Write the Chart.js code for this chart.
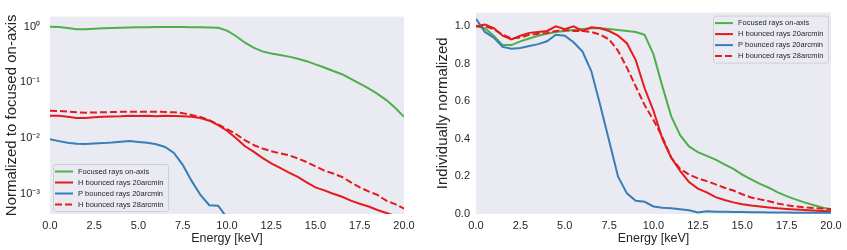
<!DOCTYPE html>
<html>
<head>
<meta charset="utf-8">
<script src="https://cdn.jsdelivr.net/npm/chart.js@4"></script>
<style>
body{margin:0;background:#fff;}
#left{position:absolute;left:0;top:0;width:420px;height:250px;}
#right{position:absolute;left:420px;top:0;width:427px;height:250px;}
</style>
</head>
<body>
<div id="left"><canvas id="leftChart"></canvas></div>
<div id="right"><canvas id="rightChart"></canvas></div>
<script>
var energy = [0,0.5,1,1.5,2,2.5,3,3.5,4,4.5,5,5.5,6,6.5,7,7.5,8,8.5,9,9.5,10,10.5,11,11.5,12,12.5,13,13.5,14,14.5,15,15.5,16,16.5,17,17.5,18,18.5,19,19.5,20]
var xTicks = [0,2.5,5,7.5,10,12.5,15,17.5,20]
var seriesNames = [`Focused rays on-axis`, `H bounced rays 20arcmin`, `P bounced rays 20arcmin`, `H bounced rays 28arcmin`]
var colors = [`#4daf4a`, `#e41a1c`, `#377eb8`, `#e41a1c`]

// left panel, normalized to focused on-axis (log)
var leftGreen = [1.00,0.99,0.95,0.90,0.90,0.92,0.935,0.95,0.96,0.97,0.975,0.98,0.985,0.99,0.99,0.985,0.98,0.975,0.97,0.955,0.85,0.68,0.52,0.42,0.36,0.33,0.31,0.29,0.265,0.24,0.21,0.185,0.16,0.14,0.115,0.095,0.078,0.062,0.048,0.035,0.024]
var leftRed = [0.025,0.0252,0.024,0.023,0.0228,0.0235,0.024,0.0243,0.0245,0.025,0.0248,0.025,0.0245,0.025,0.0248,0.0245,0.024,0.0228,0.0205,0.017,0.0135,0.01,0.0072,0.0057,0.0044,0.0035,0.0029,0.0024,0.002,0.0016,0.0013,0.00115,0.001,0.00088,0.00075,0.00066,0.00059,0.00051,0.00045,0.0004,0.00037]
var leftBlue = [0.0095,0.0088,0.0082,0.0079,0.0078,0.008,0.0081,0.0083,0.0086,0.0088,0.0085,0.0082,0.0077,0.0069,0.0054,0.0033,0.0017,0.00095,0.00062,0.00061,0.00037,0.0003,0.00028,0.00024,0.0002,0.0001,0.00014,0.00012,0.00012,0.00011,0.0001,0.00009,0.00009,0.00008,0.00008,0.00008,0.00007,0.00007,0.00007,0.00006,0.00006]
var leftDashed = [0.031,0.0305,0.030,0.029,0.0285,0.0288,0.029,0.0292,0.0295,0.0297,0.0298,0.0298,0.0296,0.0294,0.029,0.028,0.026,0.0238,0.021,0.0175,0.0145,0.0118,0.0092,0.0075,0.0065,0.0058,0.0053,0.0049,0.0043,0.0037,0.0031,0.0026,0.0023,0.002,0.0016,0.0013,0.0011,0.00095,0.00075,0.00065,0.00054]

// right panel, individually normalized
var rightGreen = [1.00,0.99,0.95,0.90,0.90,0.92,0.935,0.95,0.96,0.97,0.975,0.98,0.985,0.99,0.99,0.985,0.98,0.975,0.97,0.955,0.85,0.68,0.52,0.42,0.36,0.33,0.31,0.29,0.265,0.24,0.21,0.185,0.16,0.14,0.115,0.095,0.078,0.062,0.048,0.035,0.024]
var rightRed = [1.00,1.01,0.99,0.95,0.93,0.95,0.965,0.97,0.975,1.00,0.985,1.00,0.975,0.995,0.99,0.975,0.95,0.91,0.82,0.67,0.55,0.40,0.30,0.23,0.17,0.135,0.115,0.09,0.075,0.062,0.052,0.045,0.04,0.035,0.03,0.027,0.024,0.021,0.018,0.016,0.015]
var rightBlue = [1.04,0.97,0.94,0.89,0.88,0.885,0.895,0.905,0.92,0.955,0.95,0.915,0.865,0.76,0.58,0.39,0.20,0.11,0.07,0.065,0.04,0.033,0.03,0.025,0.02,0.008,0.014,0.012,0.012,0.011,0.01,0.009,0.009,0.008,0.008,0.008,0.007,0.007,0.007,0.006,0.006]
var rightDashed = [1.00,1.00,0.985,0.955,0.935,0.94,0.955,0.96,0.965,0.975,0.98,0.975,0.975,0.97,0.955,0.93,0.87,0.78,0.68,0.58,0.50,0.41,0.30,0.24,0.21,0.19,0.175,0.158,0.14,0.125,0.105,0.088,0.078,0.068,0.056,0.047,0.04,0.036,0.032,0.029,0.027]

var fontFamily = `'Liberation Sans', Arial, sans-serif`
var textColor = `#262626`
var superDigits = {'0':'⁰','1':'¹','2':'²','3':'³','4':'⁴','5':'⁵','6':'⁶','7':'⁷','8':'⁸','9':'⁹','-':'⁻'}

function toPoints(values){
    var points = []
    for(var pos = 0; pos < energy.length; pos++){
        points.push({x: energy[pos], y: values[pos]})
    }
    return points
}

function makeDatasets(green, red, blue, dashed){
    var lists = [green, red, blue, dashed]
    var datasets = []
    for(var pos = 0; pos < lists.length; pos++){
        datasets.push({
            label: seriesNames[pos],
            data: toPoints(lists[pos]),
            borderColor: colors[pos],
            backgroundColor: colors[pos],
            borderWidth: 2,
            borderDash: pos == 3 ? [7, 3] : [],
            pointRadius: 0,
            tension: 0,
            clip: 0,
            order: 4 - pos
        })
    }
    return datasets
}

function powerLabel(value){
    var exp = Math.log10(value)
    if(Math.abs(exp - Math.round(exp)) > 1e-6) return ``
    var text = String(Math.round(exp))
    var sup = ``
    for(var i = 0; i < text.length; i++) sup += superDigits[text[i]]
    return `10${sup}`
}

var axesBackground = {
    id: 'axesBackground',
    beforeDraw: function(chart){
        var area = chart.chartArea
        var ctx = chart.ctx
        ctx.save()
        ctx.fillStyle = `#eaeaf2`
        ctx.fillRect(area.left, area.top, area.right - area.left, area.bottom - area.top)
        ctx.restore()
    }
}

// matplotlib-like legend drawn inside the axes
function boxLegend(corner){
    return {
        id: 'boxLegend',
        afterDatasetsDraw: function(chart){
            var area = chart.chartArea
            var ctx = chart.ctx
            var boxW = 115, boxH = 47
            var x0 = corner == `lowerleft` ? area.left + 3 : area.right - 3 - boxW
            var y0 = corner == `lowerleft` ? area.bottom - 3 - boxH : area.top + 3
            ctx.save()
            ctx.beginPath()
            ctx.roundRect(x0 + 0.5, y0 + 0.5, boxW, boxH, 2)
            ctx.fillStyle = `rgba(234,234,242,0.8)`
            ctx.fill()
            ctx.strokeStyle = `#cfcfd6`
            ctx.lineWidth = 1
            ctx.stroke()
            ctx.font = `7.5px ${fontFamily}`
            ctx.textBaseline = `middle`
            ctx.fillStyle = textColor
            var datasets = chart.data.datasets
            for(var pos = 0; pos < datasets.length; pos++){
                var y = y0 + 7.5 + pos * 11
                ctx.beginPath()
                ctx.setLineDash(datasets[pos].borderDash)
                ctx.strokeStyle = datasets[pos].borderColor
                ctx.lineWidth = 2
                ctx.moveTo(x0 + 2, y)
                ctx.lineTo(x0 + 20, y)
                ctx.stroke()
                ctx.setLineDash([])
                ctx.fillText(datasets[pos].label, x0 + 25, y)
            }
            ctx.restore()
        }
    }
}

function xScale(){
    return {
        type: 'linear',
        min: 0,
        max: 20,
        grid: {display: false, drawTicks: false},
        border: {display: false},
        afterBuildTicks: function(scale){
            scale.ticks = xTicks.map(function(v){ return {value: v} })
        },
        afterFit: function(scale){ scale.height = 36 },
        ticks: {
            padding: 5,
            color: textColor,
            font: {family: fontFamily, size: 11},
            maxRotation: 0,
            autoSkip: false,
            callback: function(value){ return Number(value).toFixed(1) }
        },
        title: {
            display: true,
            text: `Energy [keV]`,
            color: textColor,
            font: {family: fontFamily, size: 12.5},
            padding: {top: 2, bottom: 4}
        }
    }
}

new Chart(document.getElementById('leftChart'), {
    type: 'line',
    data: {datasets: makeDatasets(leftGreen, leftRed, leftBlue, leftDashed)},
    options: {
        responsive: true,
        maintainAspectRatio: false,
        animation: false,
        devicePixelRatio: 1,
        layout: {padding: {top: 8, right: 16, bottom: 0, left: 0}},
        plugins: {legend: {display: false}, tooltip: {enabled: false}},
        scales: {
            x: xScale(),
            y: {
                type: 'logarithmic',
                min: 0.000432,
                max: 1.517,
                grid: {display: false, drawTicks: false},
                border: {display: false},
                afterFit: function(scale){ scale.width = 50 },
                ticks: {
                    padding: 10,
                    color: textColor,
                    font: {family: fontFamily, size: 11},
                    autoSkip: false,
                    callback: function(value){ return powerLabel(value) }
                },
                title: {
                    display: true,
                    text: `Normalized to focused on-axis`,
                    color: textColor,
                    font: {family: fontFamily, size: 15},
                    padding: {top: 3, bottom: 0}
                }
            }
        }
    },
    plugins: [axesBackground, boxLegend(`lowerleft`)]
})

new Chart(document.getElementById('rightChart'), {
    type: 'line',
    data: {datasets: makeDatasets(rightGreen, rightRed, rightBlue, rightDashed)},
    options: {
        responsive: true,
        maintainAspectRatio: false,
        animation: false,
        devicePixelRatio: 1,
        layout: {padding: {top: 8, right: 16, bottom: 0, left: 0}},
        plugins: {legend: {display: false}, tooltip: {enabled: false}},
        scales: {
            x: xScale(),
            y: {
                type: 'linear',
                min: 0,
                max: 1.073,
                grid: {display: false, drawTicks: false},
                border: {display: false},
                afterFit: function(scale){ scale.width = 56 },
                ticks: {
                    stepSize: 0.2,
                    includeBounds: false,
                    padding: 6,
                    color: textColor,
                    font: {family: fontFamily, size: 11},
                    callback: function(value){ return Number(value).toFixed(1) }
                },
                title: {
                    display: true,
                    text: `Individually normalized`,
                    color: textColor,
                    font: {family: fontFamily, size: 15},
                    padding: {top: 14, bottom: 0}
                }
            }
        }
    },
    plugins: [axesBackground, boxLegend(`upperright`)]
})
</script>
</body>
</html>
